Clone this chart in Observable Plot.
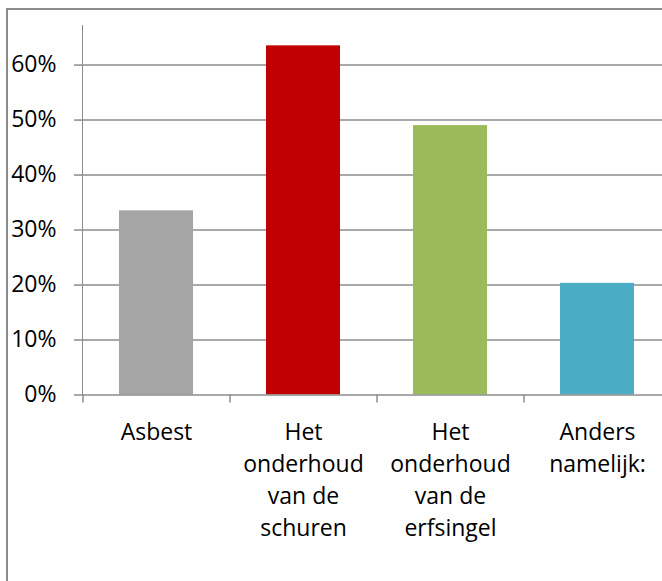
<!DOCTYPE html>
<html>
<head>
<meta charset="utf-8">
<script src="https://cdn.jsdelivr.net/npm/d3@7"></script>
<script src="https://cdn.jsdelivr.net/npm/@observablehq/plot@0.6"></script>
<style>
  html, body { margin: 0; padding: 0; background: #fff; }
  #wrap { position: relative; width: 662px; height: 581px; overflow: hidden; background: #fff; }
  #border { position: absolute; left: 6px; top: 8px; width: 800px; height: 800px; border: 2px solid #8c8c8c; box-sizing: border-box; }
  #chart { position: absolute; left: 0; top: 0; }
  #chart svg { background: transparent !important; overflow: visible; }
  #chart svg text { fill: #000; }
  #chart svg g[aria-label="y-axis tick"] path,
  #chart svg g[aria-label="y-axis tick"] line { stroke-width: 1.5px; }
</style>
</head>
<body>
<div id="wrap">
  <div id="border"></div>
  <div id="chart"></div>
</div>
<script>
const categories = ["Asbest", "Het onderhoud van de schuren", "Het onderhoud van de erfsingel", "Anders namelijk:"];
const tickLabels = ["Asbest", "Het\nonderhoud\nvan de\nschuren", "Het\nonderhoud\nvan de\nerfsingel", "Anders\nnamelijk:"];
const values = [0.335, 0.635, 0.49, 0.203];
const colors = ["#a5a5a5", "#c00000", "#9bbb59", "#4bacc6"];
const yTicks = [0, 0.1, 0.2, 0.3, 0.4, 0.5, 0.6];

const data = categories.map((c, i) => ({cat: c, value: values[i], color: colors[i], label: tickLabels[i]}));

const plot = Plot.plot({
  width: 662,
  height: 581,
  marginLeft: 82,
  marginRight: -8,
  marginTop: 25,
  marginBottom: 186.5,
  style: {fontFamily: "'Open Sans', sans-serif", fontSize: "23px", color: "#8c8c8c", background: "transparent"},
  x: {domain: categories, paddingInner: 0.5, paddingOuter: 0.25, axis: null},
  y: {
    domain: [0, 0.672],
    ticks: yTicks,
    tickFormat: d => Math.round(d * 100) + "%",
    tickSize: 8,
    tickPadding: 18,
    label: null,
    line: true
  },
  marks: [
    Plot.ruleY(yTicks.filter(d => d > 0), {stroke: "#8c8c8c", strokeWidth: 1.5}),
    Plot.barY(data, {x: "cat", y: "value", fill: "color"}),
    Plot.ruleY([0], {stroke: "#8c8c8c", strokeWidth: 1.5}),
    Plot.ruleX(categories, {x: d => d, y1: 0, y2: 0, insetBottom: -8, dx: -73.5, stroke: "#8c8c8c", strokeWidth: 1.5}),
    Plot.text(data, {x: "cat", y: 0, text: "label", lineAnchor: "top", dy: 22, lineHeight: 1.4, fill: "#000", fontSize: 23})
  ]
});
document.getElementById("chart").appendChild(plot);
</script>
</body>
</html>
